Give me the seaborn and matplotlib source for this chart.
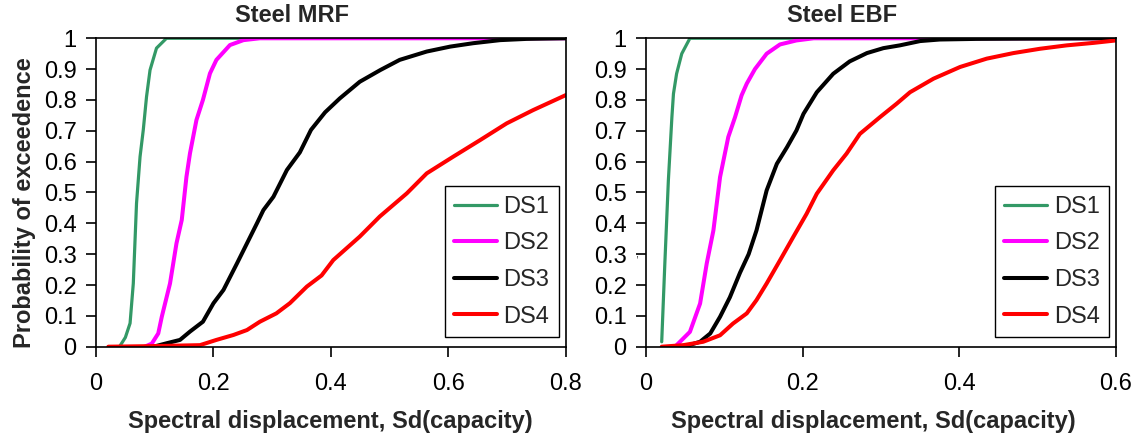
"""
Fragility curves for steel MRF / EBF (probability of exceedence vs Sd)
"""

import matplotlib
matplotlib.use('Agg')
import matplotlib.pyplot as plt
import pandas as pd
import seaborn as sns

# ---- data ----
labels = ['DS1', 'DS2', 'DS3', 'DS4']
colors = ['#339966', '#FF00FF', '#000000', '#FF0000']
widths = [2.3, 2.9, 2.9, 2.9]

# Steel MRF
mrf_ds1_x = [0.040, 0.050, 0.058, 0.0635, 0.069, 0.075, 0.0805, 0.086, 0.092, 0.103, 0.120, 0.80]
mrf_ds1_y = [0.0, 0.03, 0.076, 0.205, 0.465, 0.616, 0.703, 0.81, 0.897, 0.968, 1.0, 1.0]
mrf_ds2_x = [0.083, 0.095, 0.106, 0.112, 0.126, 0.137, 0.146, 0.154, 0.160, 0.171, 0.182,
             0.194, 0.205, 0.228, 0.251, 0.279, 0.80]
mrf_ds2_y = [0.0, 0.01, 0.043, 0.097, 0.205, 0.335, 0.411, 0.551, 0.627, 0.735, 0.80,
             0.886, 0.930, 0.978, 0.994, 1.0, 1.0]
mrf_ds3_x = [0.098, 0.120, 0.143, 0.160, 0.182, 0.200, 0.217, 0.240, 0.257, 0.274, 0.285,
             0.302, 0.325, 0.347, 0.366, 0.390, 0.415, 0.449, 0.484, 0.517, 0.563, 0.603,
             0.642, 0.688, 0.733, 0.800]
mrf_ds3_y = [0.0, 0.011, 0.022, 0.049, 0.081, 0.141, 0.184, 0.270, 0.335, 0.400, 0.443,
             0.486, 0.573, 0.630, 0.703, 0.760, 0.805, 0.859, 0.897, 0.930, 0.957, 0.973,
             0.984, 0.994, 0.998, 1.0]
mrf_ds4_x = [0.021, 0.10, 0.177, 0.205, 0.234, 0.257, 0.279, 0.307, 0.330, 0.359, 0.384,
             0.404, 0.449, 0.483, 0.529, 0.563, 0.608, 0.654, 0.699, 0.744, 0.800]
mrf_ds4_y = [0.0, 0.002, 0.005, 0.022, 0.038, 0.054, 0.081, 0.108, 0.141, 0.195, 0.231,
             0.281, 0.357, 0.422, 0.497, 0.562, 0.616, 0.670, 0.724, 0.767, 0.816]

# Steel EBF
ebf_ds1_x = [0.020, 0.024, 0.0285, 0.033, 0.035, 0.039, 0.0456, 0.056, 0.60]
ebf_ds1_y = [0.016, 0.27, 0.539, 0.744, 0.820, 0.885, 0.950, 1.0, 1.0]
ebf_ds2_x = [0.039, 0.056, 0.069, 0.0775, 0.086, 0.0945, 0.105, 0.1136, 0.122, 0.1286,
             0.139, 0.154, 0.171, 0.192, 0.214, 0.60]
ebf_ds2_y = [0.005, 0.048, 0.14, 0.27, 0.377, 0.55, 0.68, 0.744, 0.815, 0.853,
             0.90, 0.95, 0.98, 0.993, 1.0, 1.0]
ebf_ds3_x = [0.039, 0.055, 0.069, 0.082, 0.0945, 0.107, 0.120, 0.131, 0.141, 0.154, 0.167,
             0.180, 0.192, 0.201, 0.218, 0.239, 0.260, 0.282, 0.303, 0.324, 0.350, 0.375,
             0.422, 0.60]
ebf_ds3_y = [0.0, 0.005, 0.016, 0.043, 0.097, 0.16, 0.24, 0.30, 0.377, 0.507, 0.593,
             0.647, 0.701, 0.755, 0.825, 0.885, 0.925, 0.952, 0.968, 0.977, 0.991, 0.996,
             0.998, 1.0]
ebf_ds4_x = [0.020, 0.0476, 0.073, 0.0945, 0.111, 0.1286, 0.141, 0.154, 0.171, 0.188, 0.205,
             0.218, 0.239, 0.256, 0.273, 0.299, 0.320, 0.337, 0.367, 0.401, 0.435, 0.469,
             0.503, 0.537, 0.571, 0.600]
ebf_ds4_y = [0.0, 0.005, 0.016, 0.037, 0.075, 0.108, 0.151, 0.205, 0.28, 0.356, 0.431,
             0.496, 0.572, 0.626, 0.69, 0.745, 0.788, 0.825, 0.869, 0.907, 0.934, 0.952,
             0.966, 0.977, 0.985, 0.993]

panels = [
    ('Steel MRF', 0.8, [0.0, 0.2, 0.4, 0.6, 0.8], ['0', '0.2', '0.4', '0.6', '0.8'],
     [(mrf_ds1_x, mrf_ds1_y), (mrf_ds2_x, mrf_ds2_y), (mrf_ds3_x, mrf_ds3_y), (mrf_ds4_x, mrf_ds4_y)]),
    ('Steel EBF', 0.6, [0.0, 0.2, 0.4, 0.6], ['0', '0.2', '0.4', '0.6'],
     [(ebf_ds1_x, ebf_ds1_y), (ebf_ds2_x, ebf_ds2_y), (ebf_ds3_x, ebf_ds3_y), (ebf_ds4_x, ebf_ds4_y)]),
]
y_ticks = [i / 10 for i in range(11)]
y_ticklabels = ['0'] + [f'{v:.1f}' for v in y_ticks[1:-1]] + ['1']

sns.set_style('ticks')
plt.rcParams['font.family'] = ['Liberation Sans', 'DejaVu Sans']

fig = plt.figure(figsize=(11.36, 4.43), dpi=100)
lefts = [0.0845, 0.5687]

for i, (title, xmax, xt, xtl, series) in enumerate(panels):
    ax = fig.add_axes([lefts[i], 0.2174, 0.4137, 0.6962])
    for (xs, ys), lab, col, lw in zip(series, labels, colors, widths):
        df = pd.DataFrame({'Sd': xs, 'P': ys})
        sns.lineplot(data=df, x='Sd', y='P', color=col, linewidth=lw, label=lab,
                     sort=False, estimator=None, ax=ax)
    ax.set_xlim(0, xmax)
    ax.set_ylim(0, 1)
    ax.set_xticks(xt)
    ax.set_xticklabels(xtl)
    ax.set_yticks(y_ticks)
    ax.set_yticklabels(y_ticklabels)
    ax.tick_params(axis='both', direction='out', length=7, width=1.2, labelsize=17,
                   colors='black')
    ax.tick_params(axis='x', pad=12)
    ax.tick_params(axis='y', pad=7)
    for sp in ax.spines.values():
        sp.set_visible(True)
        sp.set_color('black')
        sp.set_linewidth(1.2)

    ax.text(0.418, 1.054, title, transform=ax.transAxes, ha='center', va='baseline',
            fontsize=17, fontweight='bold')

    ax.set_xlabel('Spectral displacement, Sd(capacity)', fontsize=17, fontweight='bold')
    ax.xaxis.label.set_va('baseline')
    ax.xaxis.set_label_coords(0.498 if i == 0 else 0.483, -0.264)
    if i == 0:
        ax.set_ylabel('Probability of exceedence', fontsize=17, fontweight='bold')
        ax.yaxis.label.set_va('center')
        ax.yaxis.set_label_coords(-0.153, 0.466)
    else:
        ax.set_ylabel('')
        ax.text(-0.021, 0.29, ',', transform=ax.transAxes, fontsize=8, ha='center')

    leg = ax.legend(loc='lower right', bbox_to_anchor=(0.985, 0.031), borderaxespad=0,
                    fontsize=17, fancybox=False, framealpha=1, edgecolor='black',
                    handlelength=1.8, labelspacing=0.62, borderpad=0.4, handletextpad=0.3)
    leg.get_frame().set_linewidth(1.0)

plt.savefig('out.png', dpi=100)
plt.close()
